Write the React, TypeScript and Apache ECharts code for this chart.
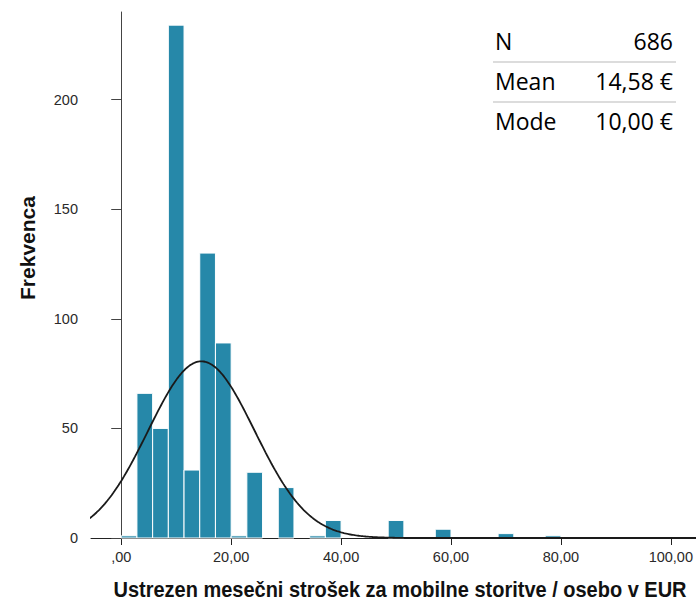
import React, { useEffect, useRef } from "react";
import * as echarts from "echarts";

// Histogram: 35 equal bins spanning 0 .. 100 EUR
const binRangeStart = 0;
const binRangeEnd = 100;
const frequencies = [
  1, 66, 50, 234, 31, 130, 89, 1, 30, 0, 23, 0, 1, 8, 0, 0, 0, 8, 0, 0, 4, 0, 0,
  0, 2, 0, 0, 1, 0, 0, 0, 0, 0, 0, 0,
];
const xTickValues = [0, 20, 40, 60, 80, 100];
const yTickValues = [0, 50, 100, 150, 200];
const statNames = ["N", "Mean", "Mode"];
const statValues = ["686", "14,58 €", "10,00 €"];
const sampleN = 686;
const sampleMean = 14.58;
const sampleSD = 9.7;
const xTitle = "Ustrezen mesečni strošek za mobilne storitve / osebo v EUR";
const yTitle = "Frekvenca";

export default function App() {
  const ref = useRef<HTMLDivElement>(null);

  useEffect(() => {
    if (!ref.current) return;
    const chart = echarts.init(ref.current, undefined, { renderer: "svg" });

    const binWidth = (binRangeEnd - binRangeStart) / frequencies.length;
    const bins = frequencies
      .map((c, i) => [binRangeStart + i * binWidth, binRangeStart + (i + 1) * binWidth, c])
      .filter((b) => b[2] > 0);

    // fitted normal curve scaled to the histogram (N * bin width * density)
    const curve: number[][] = [];
    const scale = (sampleN * binWidth) / (sampleSD * Math.sqrt(2 * Math.PI));
    for (let x = -6; x <= 105; x += 0.25) {
      const z = (x - sampleMean) / sampleSD;
      curve.push([x, scale * Math.exp(-0.5 * z * z)]);
    }

    const fmtX = (v: number) =>
      v === 0 ? ",00" : v.toFixed(2).replace(".", ",");

    const graphics: any[] = [];
    const rowY = [41, 81, 121];
    statNames.forEach((n, i) => {
      graphics.push({
        type: "text",
        x: 495,
        y: rowY[i],
        style: {
          text: n,
          font: '23px "Open Sans", sans-serif',
          fill: "#000",
          textAlign: "left",
          textVerticalAlign: "middle",
        },
      });
      graphics.push({
        type: "text",
        x: 673,
        y: rowY[i],
        style: {
          text: statValues[i],
          font: '23px "Open Sans", sans-serif',
          fill: "#000",
          textAlign: "right",
          textVerticalAlign: "middle",
        },
      });
    });
    [62, 102].forEach((y) => {
      graphics.push({
        type: "line",
        shape: { x1: 493, y1: y, x2: 676, y2: y },
        style: { stroke: "#dcdcdc", lineWidth: 2 },
      });
    });
    graphics.push({
      type: "text",
      x: 400,
      y: 589,
      scaleY: 1.08,
      style: {
        text: xTitle,
        font: 'bold 20px "Liberation Sans", Arial, sans-serif',
        fill: "#111",
        textAlign: "center",
        textVerticalAlign: "middle",
      },
    });
    graphics.push({
      type: "text",
      x: 27,
      y: 248,
      rotation: Math.PI / 2,
      style: {
        text: yTitle,
        font: 'bold 21px "Liberation Sans", Arial, sans-serif',
        fill: "#111",
        textAlign: "center",
        textVerticalAlign: "middle",
      },
    });

    chart.setOption({
      animation: false,
      backgroundColor: "#fff",
      grid: { left: 91, right: 0, top: 12, bottom: 65, containLabel: false },
      xAxis: {
        type: "value",
        min: -5.5,
        max: 104.5,
        splitLine: { show: false },
        axisLine: { show: true, lineStyle: { color: "#222", width: 1 } },
        axisTick: {
          show: true,
          length: 7,
          customValues: xTickValues,
          lineStyle: { color: "#222" },
        },
        axisLabel: {
          customValues: xTickValues,
          formatter: (v: number) => fmtX(v),
          fontSize: 14.5,
          fontFamily: '"Liberation Sans", Arial, sans-serif',
          color: "#2a2a2a",
          margin: 11,
        },
      },
      yAxis: {
        type: "value",
        min: 0,
        max: 240,
        splitLine: { show: false },
        axisLine: { show: true, lineStyle: { color: "#444", width: 1 } },
        axisTick: {
          show: true,
          length: 10,
          customValues: yTickValues,
          lineStyle: { color: "#444" },
        },
        axisLabel: {
          customValues: yTickValues,
          fontSize: 14.5,
          fontFamily: '"Liberation Sans", Arial, sans-serif',
          color: "#2a2a2a",
          margin: 13,
        },
      },
      series: [
        {
          type: "custom",
          data: bins,
          encode: { x: [0, 1], y: 2 },
          renderItem: (params: any, api: any) => {
            const p0 = api.coord([api.value(0), api.value(2)]);
            const p1 = api.coord([api.value(1), 0]);
            return {
              type: "rect",
              shape: {
                x: p0[0],
                y: p0[1],
                width: p1[0] - p0[0],
                height: p1[1] - p0[1],
              },
              style: { fill: "#2688a9", stroke: "#ffffff", lineWidth: 1 },
            };
          },
          z: 2,
        },
        {
          type: "line",
          data: curve,
          showSymbol: false,
          symbol: "none",
          clip: true,
          lineStyle: { color: "#1a1a1a", width: 1.8 },
          z: 3,
        },
      ],
      graphic: graphics,
    });

    return () => chart.dispose();
  }, []);

  return (
    <div
      ref={ref}
      style={{ position: "fixed", left: 0, top: 0, width: 696, height: 603 }}
    />
  );
}
